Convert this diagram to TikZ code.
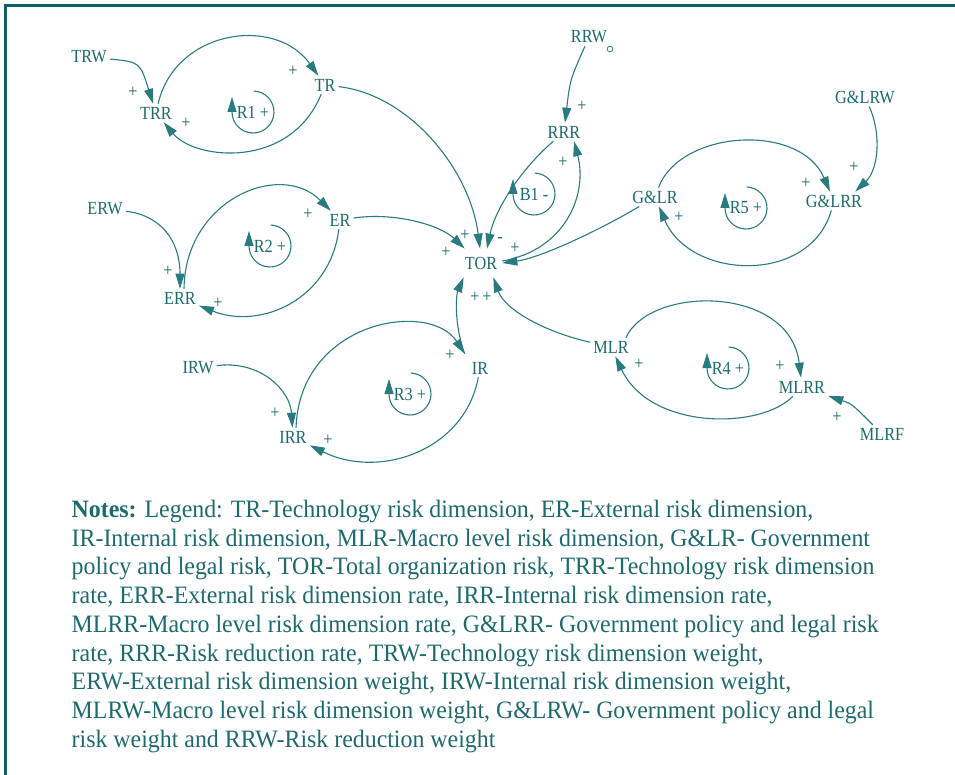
\documentclass[tikz,border=0pt]{standalone}
\usepackage{fontspec}
\usetikzlibrary{arrows.meta,calc}
\newfontfamily\sdfont[FakeStretch=0.88]{Liberation Serif}
\newfontfamily\notefont[FakeStretch=0.955]{Liberation Serif}
\definecolor{sdteal}{HTML}{1D6A6E}
\definecolor{sdline}{HTML}{2A7B80}
\definecolor{sdframe}{HTML}{0F6064}
\tikzset{
  varnode/.style={font=\sdfont\fontsize{18.5}{20}\selectfont, text=sdteal, inner sep=3pt},
  polsign/.style={font=\sdfont\fontsize{18.5}{18}\selectfont, text=sdteal, inner sep=0pt},
  cause/.style={sdline, line width=1.1pt, ->},
  notes/.style={font=\notefont\fontsize{25}{28.7}\selectfont, text=sdteal, align=left, inner sep=0pt},
}
\begin{document}
\begin{tikzpicture}[x=1pt, y=-1pt, >={Triangle[length=15pt,width=9pt]}]
  \useasboundingbox (0,0) rectangle (955,775);
  % frame
  \draw[sdframe, line width=3.5pt] (5.5,775) -- (5.5,5.5) -- (955,5.5);
  % variables
  \node[varnode] (trw) at (89,57) {TRW};
  \node[varnode] (trr) at (156,113) {TRR};
  \node[varnode] (tr) at (325,85) {TR};
  \node[varnode] (erw) at (105,209) {ERW};
  \node[varnode] (er) at (340,220) {ER};
  \node[varnode] (err) at (180,298) {ERR};
  \node[varnode] (irw) at (198,368) {IRW};
  \node[varnode] (ir) at (480,368) {IR};
  \node[varnode] (irr) at (293,437) {IRR};
  \node[varnode, inner xsep=5pt, inner ysep=8pt] (tor) at (481,263) {TOR};
  \node[varnode] (rrw) at (589,37) {RRW};
  \node[varnode] (rrr) at (564,132) {RRR};
  \node[draw=sdline, circle, line width=0.8pt, inner sep=2pt] (rrwmark) at (610,49) {};
  \node[varnode] (glrw) at (865,97) {G\&LRW};
  \node[varnode] (glr) at (655,197) {G\&LR};
  \node[varnode] (glrr) at (834,201) {G\&LRR};
  \node[varnode] (mlr) at (611,347) {MLR};
  \node[varnode] (mlrr) at (802,387) {MLRR};
  \node[varnode] (mlrf) at (882,434) {MLRF};
  \coordinate (irin) at ([xshift=-4pt,yshift=5pt]ir.north west);
  % loop names
  \node[varnode] (r1) at (253,112) {R1 +};
  \node[varnode] (r2) at (270,246) {R2 +};
  \node[varnode] (r3) at (410,394) {R3 +};
  \node[varnode] (r4) at (728,368) {R4 +};
  \node[varnode] (r5) at (746,208) {R5 +};
  \node[varnode] (b1) at (534,194) {B1 -};
  % loop arrows
  \draw[cause] ($(r1)+(-88:21)$) arc[start angle=-88, end angle=180, radius=21] -- ++(0,-15);
  \draw[cause] ($(r2)+(-88:21)$) arc[start angle=-88, end angle=180, radius=21] -- ++(0,-15);
  \draw[cause] ($(r3)+(-88:21)$) arc[start angle=-88, end angle=180, radius=21] -- ++(0,-15);
  \draw[cause] ($(r4)+(-88:21)$) arc[start angle=-88, end angle=180, radius=21] -- ++(0,-15);
  \draw[cause] ($(r5)+(-88:21)$) arc[start angle=-88, end angle=180, radius=21] -- ++(0,-15);
  \draw[cause] ($(b1)+(-88:21)$) arc[start angle=-88, end angle=180, radius=21] -- ++(0,-15);
  % technology loop
  \draw[cause] (trw) .. controls (140,62) .. (trr);
  \draw[cause] (trr) .. controls (175,30) and (275,15) .. (tr);
  \draw[cause] (tr) .. controls (290,170) and (195,160) .. (trr);
  % external loop
  \draw[cause] (erw) .. controls (160,215) and (180,240) .. (err);
  \draw[cause] ([xshift=4pt]err.north) .. controls (185,200) and (280,160) .. (er);
  \draw[cause] (er) .. controls (330,300) and (260,330) .. (err);
  % internal loop
  \draw[cause] (irw) .. controls (260,360) and (290,390) .. (irr);
  \draw[cause] ([xshift=3pt]irr.north) .. controls (300,320) and (430,300) .. (irin);
  \draw[cause] (ir) .. controls (465,450) and (380,480) .. (irr);
  % macro level loop
  \draw[cause] ([xshift=-6pt]mlr.north east) .. controls (650,285) and (790,285) .. (mlrr);
  \draw[cause] (mlrr) .. controls (760,430) and (650,430) .. (mlr);
  \draw[cause] (mlrf) .. controls (852,404) .. (mlrr);
  % government and legal loop
  \draw[cause] (glr) .. controls (680,130) and (800,122) .. (glrr);
  \draw[cause] (glrr) .. controls (810,285) and (690,280) .. (glr);
  \draw[cause] (glrw) .. controls (882,135) and (878,170) .. ([xshift=-10pt]glrr.north east);
  % into total risk
  \draw[cause] (tr) .. controls (410,95) and (470,170) .. ([xshift=-1pt]tor.north);
  \draw[cause] (er) .. controls (395,212) and (440,225) .. ([xshift=5pt]tor.north west);
  \draw[cause] (rrr) .. controls (520,170) and (495,210) .. ([xshift=6pt]tor.north);
  \draw[cause] (glr) .. controls (600,230) and (540,258) .. (tor.east);
  \draw[cause] (irin) .. controls (454,325) and (456,295) .. ([xshift=4pt]tor.south west);
  \draw[cause] (mlr) .. controls (545,332) and (505,310) .. ([xshift=-9pt]tor.south east);
  % risk reduction
  \draw[cause] ([yshift=2pt]tor.east) .. controls (565,250) and (588,195) .. ([xshift=10pt]rrr.south);
  \draw[cause] (rrw) .. controls (570,80) .. (rrr);
  % polarities
  \node[polsign] (p1) at (133,92) {+};
  \node[polsign] (p2) at (293,71) {+};
  \node[polsign] (p3) at (186,123) {+};
  \node[polsign] (p4) at (168,271) {+};
  \node[polsign] (p5) at (308,214) {+};
  \node[polsign] (p6) at (218,303) {+};
  \node[polsign] (p7) at (275,413) {+};
  \node[polsign] (p8) at (450,355) {+};
  \node[polsign] (p9) at (328,440) {+};
  \node[polsign] (p10) at (446,252) {+};
  \node[polsign] (p11) at (465,235) {+};
  \node[polsign] (p12) at (500,240) {-};
  \node[polsign] (p13) at (515,248) {+};
  \node[polsign] (p14) at (563,162) {+};
  \node[polsign] (p15) at (582,106) {+};
  \node[polsign] (p16) at (475,297) {+};
  \node[polsign] (p17) at (487,297) {+};
  \node[polsign] (p18) at (854,167) {+};
  \node[polsign] (p19) at (806,183) {+};
  \node[polsign] (p20) at (679,217) {+};
  \node[polsign] (p21) at (780,366) {+};
  \node[polsign] (p22) at (639,364) {+};
  \node[polsign] (p23) at (837,417) {+};
  % legend
  \node[notes, anchor=north west] (legend) at (71.5,500) {\textbf{Notes:} Legend: TR-Technology risk dimension, ER-External risk dimension,\\
    IR-Internal risk dimension, MLR-Macro level risk dimension, G\&LR- Government\\
    policy and legal risk, TOR-Total organization risk, TRR-Technology risk dimension\\
    rate, ERR-External risk dimension rate, IRR-Internal risk dimension rate,\\
    MLRR-Macro level risk dimension rate, G\&LRR- Government policy and legal risk\\
    rate, RRR-Risk reduction rate, TRW-Technology risk dimension weight,\\
    ERW-External risk dimension weight, IRW-Internal risk dimension weight,\\
    MLRW-Macro level risk dimension weight, G\&LRW- Government policy and legal\\
    risk weight and RRW-Risk reduction weight};
\end{tikzpicture}
\end{document}
